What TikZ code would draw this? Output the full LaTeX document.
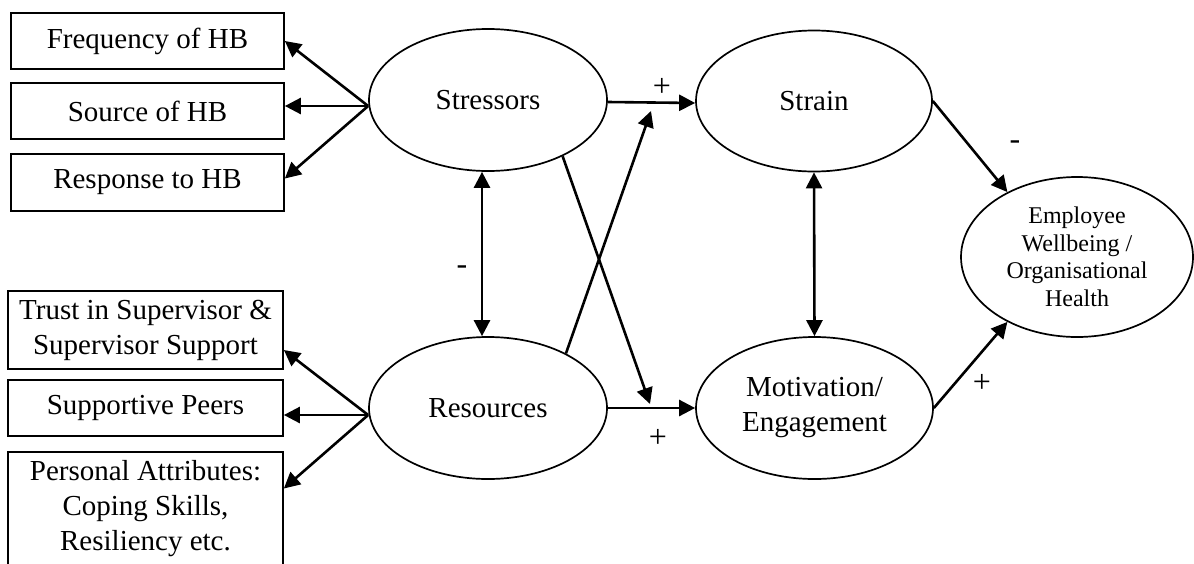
\documentclass[tikz,border=0pt]{standalone}
\usepackage{fontspec}
\setmainfont{Liberation Serif}
\usetikzlibrary{shapes.geometric,arrows.meta}
\begin{document}
\begin{tikzpicture}[x=1pt,y=-1pt,
  box/.style={draw,line width=1.7pt,rectangle,inner sep=0pt,align=center,
    font=\fontsize{29}{35}\selectfont},
  oval/.style={draw,line width=1.7pt,ellipse,inner sep=0pt,align=center,
    font=\fontsize{29}{35}\selectfont},
  link/.style={line width=2.6pt,-{Triangle[length=16pt,width=16pt]}},
  both/.style={line width=2.6pt,
    {Triangle[length=16pt,width=16pt]}-{Triangle[length=16pt,width=16pt]}},
  sign/.style={font=\fontsize{32}{35}\selectfont,inner sep=0pt}]
\useasboundingbox (0,0) rectangle (1194,563);

% indicator boxes on the left
\node[box,minimum width=273pt,minimum height=56pt] (B1) at (147.5,41) {Frequency of HB};
\node[box,minimum width=273pt,minimum height=56pt] (B2) at (147.5,111) {Source of HB};
\node[box,minimum width=273pt,minimum height=57pt] (B3) at (147.5,182.5) {Response to HB};
\node[box,minimum width=275pt,minimum height=78pt] (B4) at (145.5,330) {Trust in Supervisor \&\\Supervisor Support};
\node[box,minimum width=275pt,minimum height=56pt] (B5) at (145.5,408) {Supportive Peers};
\node[box,minimum width=275pt,minimum height=113pt] (B6) at (145.5,508.5) {Personal Attributes:\\Coping Skills,\\Resiliency etc.};

% latent constructs
\node[oval,minimum width=238pt,minimum height=142pt] (S) at (488,100) {\raisebox{-5pt}{Stressors}};
\node[oval,minimum width=238pt,minimum height=142pt] (R) at (488,408) {\raisebox{-5pt}{Resources}};
\node[oval,minimum width=236pt,minimum height=141pt] (T) at (814,101) {Strain};
\node[oval,minimum width=237pt,minimum height=142pt] (M) at (814.5,408) {Motivation/\\Engagement};
\node[oval,minimum width=232pt,minimum height=160pt,
  font=\fontsize{24}{27.5}\selectfont] (E) at (1077,257)
  {Employee\\Wellbeing /\\Organisational\\Health};

% fan-out points and junctions
\coordinate (fs) at ([yshift=-6pt]S.west);
\coordinate (fr) at ([yshift=-7pt]R.west);
\coordinate (j1) at (651,111);
\coordinate (j2) at (650,404);

% indicators
\draw[link] (fs) -- (B1.east);
\draw[link] (fs) -- (fs -| B2.east);
\draw[link] (fs) -- ([yshift=4pt]B3.east);
\draw[link] (fr) -- ([yshift=-20pt]B4.east);
\draw[link] (fr) -- (fr -| B5.east);
\draw[link] (fr) -- ([yshift=20pt]B6.east);

% structural paths
\draw[link] ([yshift=-2pt]S.east) -- ([yshift=-2pt]T.west);
\draw[link] (R.east) -- (M.west);
\draw[link] (R.35) -- (j1);
\draw[link] (S.-37) -- (j2);
\draw[both] ([xshift=-6pt]S.south) -- ([xshift=-6pt]R.north);
\draw[both] (T.south) -- (M.north);
\draw[link] (T.east) -- (E.137);
\draw[link] (M.east) -- (E.223);

% signs
\node[sign] (p1) at (662,87) {+};
\node[sign] (p2) at (658,438) {+};
\node[sign] (m1) at (462,270) {-};
\node[sign] (m2) at (1015,145) {-};
\node[sign] (p3) at (982,383) {+};
\end{tikzpicture}
\end{document}
